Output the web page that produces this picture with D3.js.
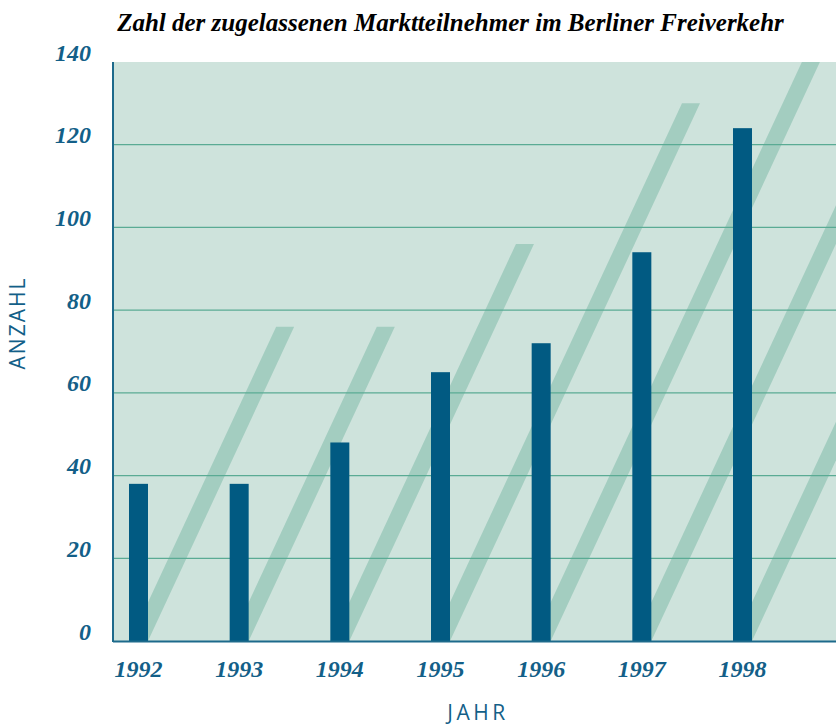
<!DOCTYPE html>
<html>
<head>
<meta charset="utf-8">
<script src="https://cdn.jsdelivr.net/npm/d3@7"></script>
<style>
  body { margin: 0; background: #fff; }
  svg { display: block; }
</style>
</head>
<body>
<svg id="chart" width="836" height="725"></svg>
<script>
var years = [1992, 1993, 1994, 1995, 1996, 1997, 1998];
var counts = [38, 38, 48, 65, 72, 94, 124];
// decorative stripes: the value at which each diagonal stripe stops
var stripeTops = [76, 76, 96, 130, 160, 160, 160];
var yTicks = [0, 20, 40, 60, 80, 100, 120, 140];

var svg = d3.select('#chart');

var plot = { left: 113, right: 836, top: 62, bottom: 641 };

var x = d3.scaleLinear()
    .domain([1992, 1998])
    .range([138.5, 742.5]);

var y = d3.scaleLinear()
    .domain([0, 140])
    .range([plot.bottom, plot.top]);

var barW = 19;
var stripeW = 18;
var lean = 0.465; // horizontal shift per px of rise

svg.append('clipPath').attr('id', 'plot-clip')
    .append('rect')
    .attr('x', plot.left)
    .attr('y', plot.top)
    .attr('width', plot.right - plot.left)
    .attr('height', plot.bottom - plot.top);

svg.append('rect')
    .attr('x', plot.left)
    .attr('y', plot.top)
    .attr('width', plot.right - plot.left)
    .attr('height', plot.bottom - plot.top)
    .attr('fill', '#cee3dc');

var inner = svg.append('g').attr('clip-path', 'url(#plot-clip)');

// diagonal stripes
inner.selectAll('.stripe')
    .data(years)
    .enter().append('path')
    .attr('class', 'stripe')
    .attr('fill', '#a3cdc0')
    .attr('d', function(d, i) {
        var bx = x(d) + barW / 2;          // bottom right corner
        var ty = y(stripeTops[i]);
        var rise = plot.bottom - ty;
        return 'M' + (bx - stripeW) + ',' + plot.bottom +
            'L' + bx + ',' + plot.bottom +
            'L' + (bx + rise * lean) + ',' + ty +
            'L' + (bx - stripeW + rise * lean) + ',' + ty + 'Z';
    });

// gridlines
inner.selectAll('.grid')
    .data(yTicks.filter(function(t) { return t > 0 && t < 140; }))
    .enter().append('line')
    .attr('class', 'grid')
    .attr('x1', plot.left)
    .attr('x2', plot.right)
    .attr('y1', function(d) { return y(d); })
    .attr('y2', function(d) { return y(d); })
    .attr('stroke', '#5aab94')
    .attr('stroke-width', 1.3);

// bars
inner.selectAll('.bar')
    .data(counts)
    .enter().append('rect')
    .attr('class', 'bar')
    .attr('x', function(d, i) { return x(years[i]) - barW / 2; })
    .attr('y', function(d) { return y(d); })
    .attr('width', barW)
    .attr('height', function(d) { return plot.bottom - y(d); })
    .attr('fill', '#015a82');

// axis lines
svg.append('line')
    .attr('x1', plot.left).attr('x2', plot.left)
    .attr('y1', plot.top).attr('y2', plot.bottom + 1)
    .attr('stroke', '#1d6a8b').attr('stroke-width', 2);
svg.append('line')
    .attr('x1', plot.left).attr('x2', plot.right)
    .attr('y1', plot.bottom + 0.5).attr('y2', plot.bottom + 0.5)
    .attr('stroke', '#1d6a8b').attr('stroke-width', 2);

var labelFont = '"Liberation Serif", "Times New Roman", serif';

svg.selectAll('.ytick')
    .data(yTicks)
    .enter().append('text')
    .attr('class', 'ytick')
    .attr('x', 91)
    .attr('y', function(d) { return y(d) - 1.5; })
    .attr('text-anchor', 'end')
    .attr('font-family', labelFont)
    .attr('font-style', 'italic')
    .attr('font-weight', 'bold')
    .attr('font-size', 24)
    .attr('fill', '#135f88')
    .text(function(d) { return d; });

svg.selectAll('.xtick')
    .data(years)
    .enter().append('text')
    .attr('class', 'xtick')
    .attr('x', function(d) { return x(d); })
    .attr('y', 677)
    .attr('text-anchor', 'middle')
    .attr('font-family', labelFont)
    .attr('font-style', 'italic')
    .attr('font-weight', 'bold')
    .attr('font-size', 24)
    .attr('fill', '#135f88')
    .text(function(d) { return d; });

svg.append('text')
    .attr('x', 450.5)
    .attr('y', 30.5)
    .attr('text-anchor', 'middle')
    .attr('font-family', labelFont)
    .attr('font-style', 'italic')
    .attr('font-weight', 'bold')
    .attr('font-size', 25)
    .attr('fill', '#000')
    .text('Zahl der zugelassenen Marktteilnehmer im Berliner Freiverkehr');

svg.append('text')
    .attr('x', 478)
    .attr('y', 720)
    .attr('text-anchor', 'middle')
    .attr('font-family', '"Open Sans", sans-serif')
    .attr('font-size', 21)
    .attr('letter-spacing', 3.5)
    .attr('fill', '#135f88')
    .text('JAHR');

svg.append('text')
    .attr('transform', 'translate(25,323) rotate(-90)')
    .attr('text-anchor', 'middle')
    .attr('font-family', '"Open Sans", sans-serif')
    .attr('font-size', 21)
    .attr('letter-spacing', 2)
    .attr('fill', '#135f88')
    .text('ANZAHL');
</script>
</body>
</html>
